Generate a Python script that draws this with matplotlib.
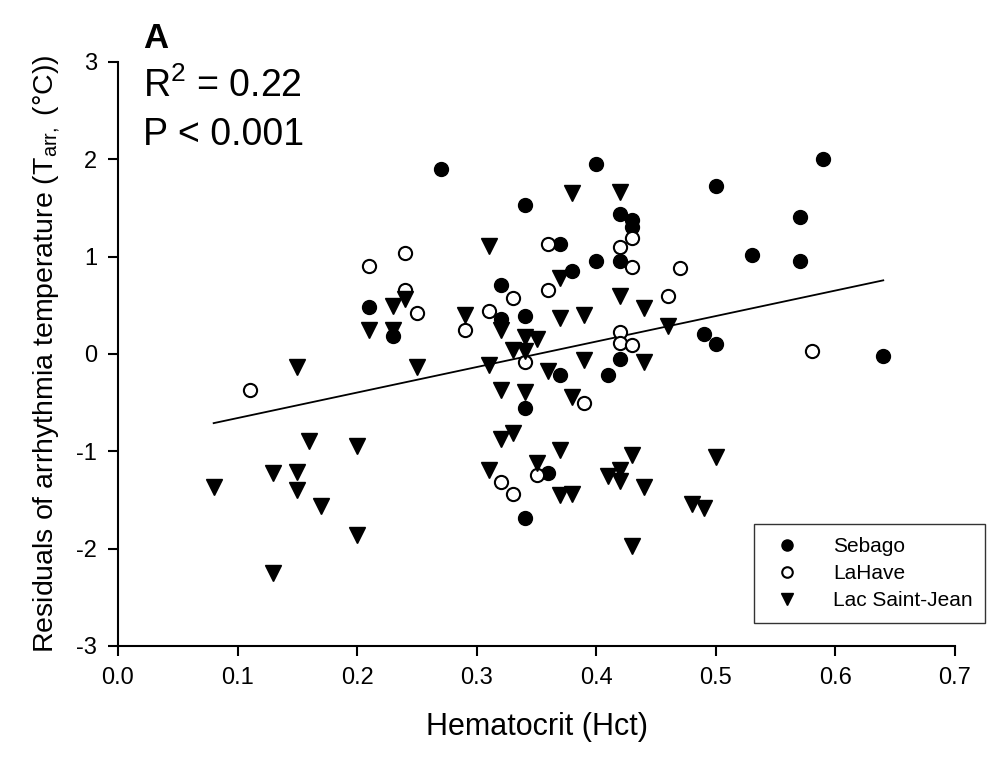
import numpy as np
import matplotlib
matplotlib.use('Agg')
import matplotlib.pyplot as plt

plt.rcParams['font.family'] = ['Liberation Sans', 'DejaVu Sans']
plt.rcParams['mathtext.fontset'] = 'custom'
plt.rcParams['mathtext.rm'] = 'Liberation Sans'
plt.rcParams['mathtext.it'] = 'Liberation Sans:italic'
plt.rcParams['axes.unicode_minus'] = False

# Sebago
sebago_hct = [0.21, 0.23, 0.27, 0.32, 0.32, 0.34, 0.34, 0.34, 0.34, 0.36, 0.37, 0.37, 0.38, 0.40, 0.40,
              0.41, 0.42, 0.43, 0.43, 0.42, 0.42, 0.49, 0.50, 0.50, 0.53, 0.57, 0.57, 0.59, 0.64]
sebago_res = [0.48, 0.18, 1.90, 0.71, 0.36, 1.53, 0.39, -0.55, -1.68, -1.22, 1.13, -0.22, 0.85, 1.95, 0.96,
              -0.22, 1.44, 1.38, 1.30, 0.96, -0.05, 0.21, 0.10, 1.73, 1.02, 1.41, 0.96, 2.00, -0.02]

# LaHave
lahave_hct = [0.11, 0.21, 0.24, 0.24, 0.25, 0.29, 0.31, 0.33, 0.36, 0.36, 0.34, 0.42, 0.43, 0.43, 0.47,
              0.46, 0.42, 0.42, 0.43, 0.39, 0.58, 0.32, 0.33, 0.35]
lahave_res = [-0.37, 0.90, 1.04, 0.66, 0.42, 0.25, 0.44, 0.58, 1.13, 0.66, -0.08, 1.10, 1.19, 0.89, 0.88,
              0.60, 0.23, 0.11, 0.09, -0.50, 0.03, -1.31, -1.44, -1.24]

# Lac Saint-Jean
lsj_hct = [0.16, 0.20, 0.08, 0.13, 0.15, 0.15, 0.17, 0.20, 0.13,
           0.15, 0.21, 0.23,
           0.24, 0.23, 0.25, 0.29, 0.31, 0.32, 0.31, 0.33, 0.34, 0.35, 0.34, 0.32, 0.34, 0.36,
           0.37, 0.38, 0.37, 0.39, 0.39, 0.38, 0.42, 0.42, 0.44, 0.44, 0.46,
           0.32, 0.33, 0.31, 0.35, 0.37, 0.37, 0.38, 0.43, 0.41, 0.42, 0.42, 0.44, 0.43, 0.48, 0.49, 0.50]
lsj_res = [-0.89, -0.95, -1.37, -1.22, -1.21, -1.40, -1.56, -1.86, -2.25,
           -0.13, 0.25, 0.49,
           0.56, 0.25, -0.13, 0.40, 1.11, 0.25, -0.11, 0.04, 0.17, 0.15, 0.03, -0.37, -0.39, -0.17,
           0.78, 1.65, 0.37, 0.40, -0.06, -0.44, 1.66, 0.60, 0.47, -0.08, 0.29,
           -0.87, -0.81, -1.19, -1.12, -0.99, -1.45, -1.44, -1.04, -1.25, -1.19, -1.30, -1.37, -1.97, -1.54, -1.58, -1.06]

# regression line
fit_slope = 2.62
fit_intercept = -0.92
fit_range = [0.08, 0.64]

x_ticks = [0.0, 0.1, 0.2, 0.3, 0.4, 0.5, 0.6, 0.7]
y_ticks = [-3, -2, -1, 0, 1, 2, 3]

fig = plt.figure(figsize=(10.02, 7.61), dpi=100)
ax = fig.add_axes([118 / 1002, 1 - 646 / 761, (955 - 118) / 1002, (646 - 62) / 761])

ax.plot(sebago_hct, sebago_res, 'o', color='black', markersize=10, label='Sebago', zorder=3)
ax.plot(lahave_hct, lahave_res, 'o', markerfacecolor='white', markeredgecolor='black',
        markeredgewidth=1.5, markersize=9.5, label='LaHave', zorder=3)
ax.plot(lsj_hct, lsj_res, 'v', color='black', markersize=11, label='Lac Saint-Jean', zorder=3)

fx = np.array(fit_range)
ax.plot(fx, fit_slope * fx + fit_intercept, color='black', linewidth=1.3, zorder=2)

ax.set_xlim(0, 0.7)
ax.set_ylim(-3, 3)
ax.set_xticks(x_ticks)
ax.set_yticks(y_ticks)
ax.set_xticklabels(['%.1f' % t for t in x_ticks])
ax.spines['top'].set_visible(False)
ax.spines['right'].set_visible(False)
for s in ['left', 'bottom']:
    ax.spines[s].set_linewidth(1.5)
ax.tick_params(direction='out', length=7, width=1.5, labelsize=17, pad=8)

ax.set_xlabel('Hematocrit (Hct)', fontsize=22, labelpad=17)
ax.set_ylabel('Residuals of arrhythmia temperature (T$_{\\mathrm{arr,}}$ (°C))', fontsize=20.5, labelpad=10)

fig.text(143 / 1002, 1 - 48 / 761, 'A', fontsize=25, fontweight='bold', va='baseline')
fig.text(143 / 1002, 1 - 97 / 761, 'R$^{\\mathrm{2}}$ = 0.22', fontsize=27, va='baseline')
fig.text(143 / 1002, 1 - 145 / 761, 'P < 0.001', fontsize=27, va='baseline')

leg = ax.legend(loc='lower right', bbox_to_anchor=(985 / 1002, 1 - 623 / 761),
                bbox_transform=fig.transFigure, borderaxespad=0, fontsize=15,
                frameon=True, fancybox=False, edgecolor='black', markerscale=0.8,
                handletextpad=1.2, borderpad=0.6, labelspacing=0.4)
leg.get_frame().set_linewidth(1.0)

fig.savefig('out.png', dpi=100)
